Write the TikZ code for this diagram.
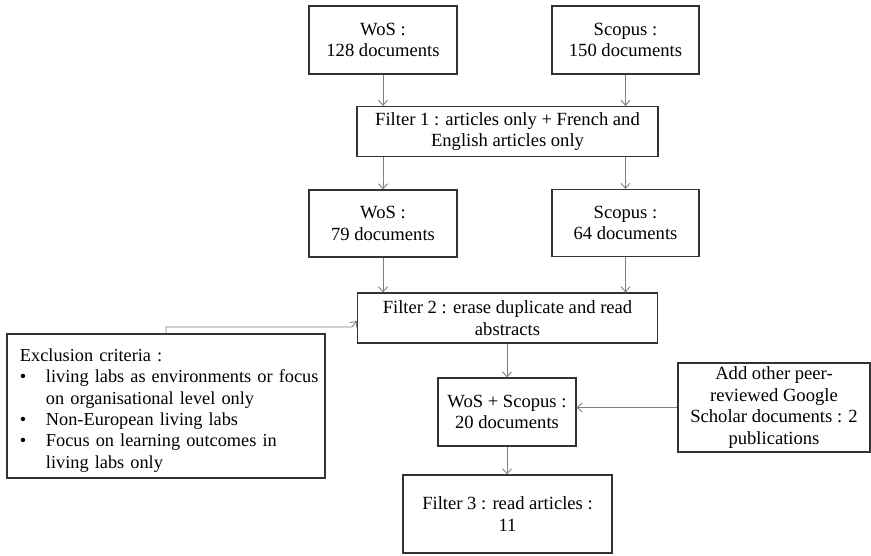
\documentclass[tikz,border=0pt]{standalone}
\usepackage{fontspec}
\setmainfont{Liberation Serif}
\usepackage{tikz}
\usetikzlibrary{positioning, arrows.meta}
\tikzstyle{box} = [rectangle, draw=black!80, line width=1.2pt, align=center, inner sep=0pt, font=\fontsize{18.6}{21.4}\selectfont]
\tikzstyle{arrow} = [draw=black!50, line width=0.9pt, -{Straight Barb[length=5pt,width=9pt]}]

\begin{document}
\begin{tikzpicture}[x=1pt, y=-1pt]
  \useasboundingbox (0,0) rectangle (871,555);

  % Databases
  \node[box, minimum width=148pt, minimum height=68pt] (wos) at (383,40) {WoS :\\128 documents};
  \node[box, minimum width=147pt, minimum height=68pt] (scopus) at (625.5,40) {Scopus :\\150 documents};

  % Filter 1
  \node[box, minimum width=301pt, minimum height=50pt] (filter1) at (507.5,131.5) {Filter 1 : articles only + French and\\English articles only};
  \node[box, minimum width=148pt, minimum height=67pt] (wos2) at (383,223.5) {WoS :\\79 documents};
  \node[box, minimum width=147pt, minimum height=67pt] (scopus2) at (625.5,223) {Scopus :\\64 documents};

  % Filter 2
  \node[box, minimum width=300pt, minimum height=50pt] (filter2) at (507.5,318) {Filter 2 : erase duplicate and read\\abstracts};
  \node[box, minimum width=318pt, minimum height=144pt, text width=318pt, align=left,
        font=\fontsize{18.3}{21.4}\selectfont] (excl) at (166,406) {\vspace*{8pt}\par\noindent\hspace*{13pt}%
    \begin{tabular}{@{}p{26pt}@{}l@{}}
      \multicolumn{2}{@{}l@{}}{Exclusion criteria :}\\
      \textbullet & living labs as environments or focus\\
                  & on organisational level only\\
      \textbullet & Non-European living labs\\
      \textbullet & Focus on learning outcomes in\\
                  & living labs only
    \end{tabular}};

  % Merged set and extra sources
  \node[box, minimum width=138pt, minimum height=68pt] (both) at (507,412) {WoS + Scopus :\\20 documents};
  \node[box, minimum width=192pt, minimum height=89pt] (google) at (774,407.5) {Add other peer-\\reviewed Google\\Scholar documents : 2\\publications};

  % Filter 3
  \node[box, minimum width=209pt, minimum height=78pt] (filter3) at (507.5,514) {Filter 3 : read articles :\\11};

  % Arrows
  \draw[arrow] (wos.south) -- (filter1.north -| wos.south);
  \draw[arrow] (scopus.south) -- (filter1.north -| scopus.south);
  \draw[arrow] (filter1.south -| wos2.north) -- (wos2.north);
  \draw[arrow] (filter1.south -| scopus2.north) -- (scopus2.north);
  \draw[arrow] (wos2.south) -- (filter2.north -| wos2.south);
  \draw[arrow] (scopus2.south) -- (filter2.north -| scopus2.south);
  \coordinate (kink) at (352,327);
  \draw[arrow] (excl.north) |- (kink) -- (filter2.west |- 0,321);
  \draw[arrow] (filter2.south -| both.north) -- (both.north);
  \draw[arrow] (google.west) -- (google.west -| both.east);
  \draw[arrow] (both.south) -- (filter3.north -| both.south);
\end{tikzpicture}
\end{document}
